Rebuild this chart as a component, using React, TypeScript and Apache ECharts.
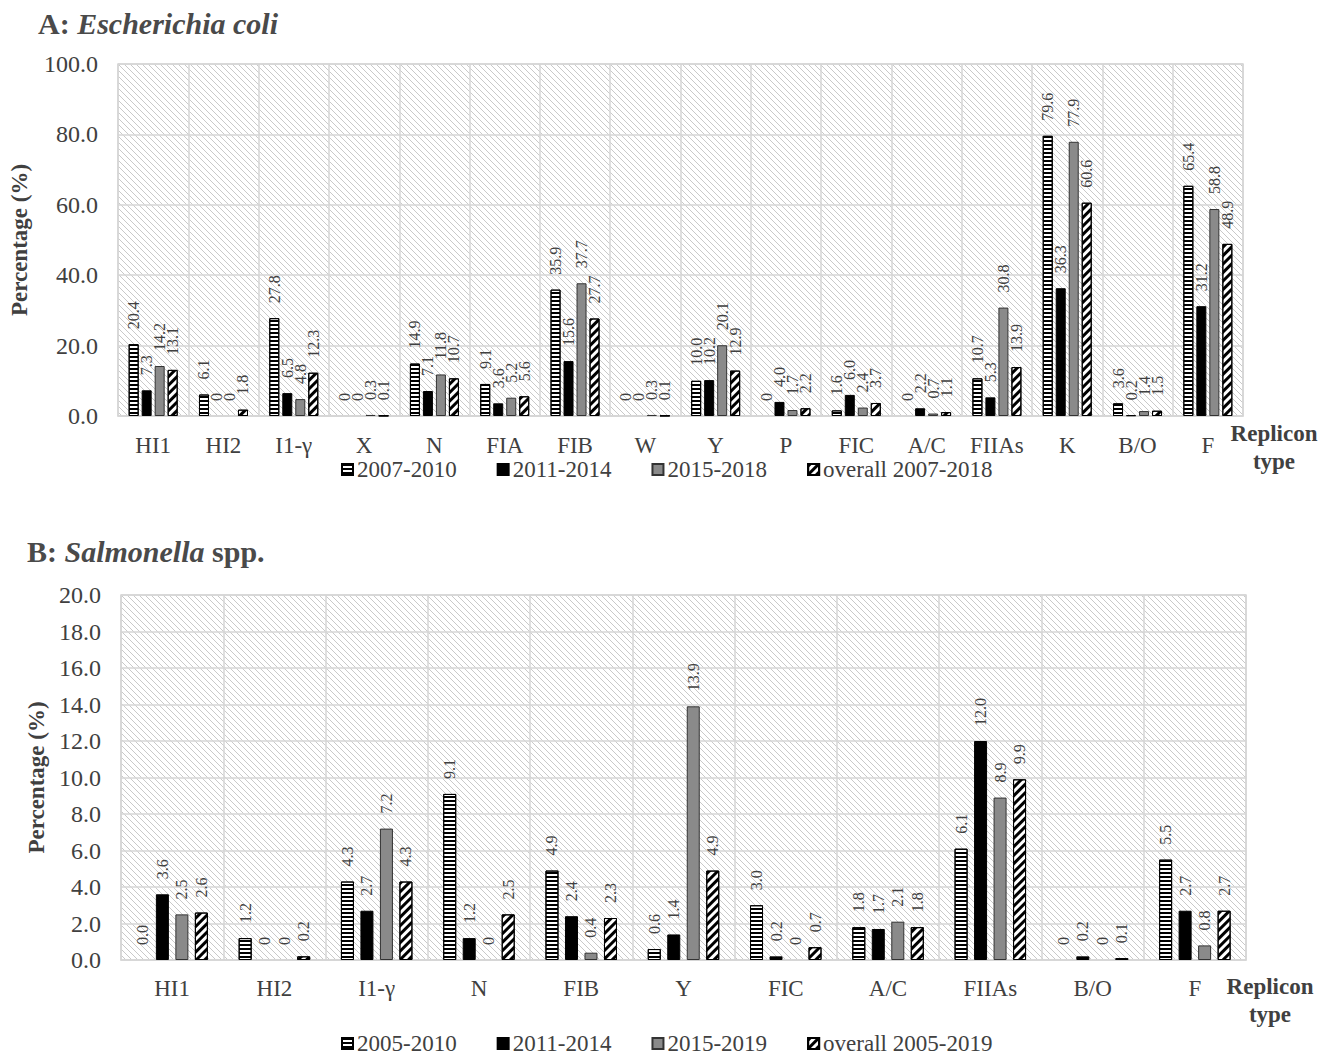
import React, { useEffect, useRef } from "react";
import * as echarts from "echarts";

const FONT = "'Liberation Serif', 'Times New Roman', serif";
const TXT = "#404040";
const GRIDC = "#d6d6d6";

// Panel A: Escherichia coli
const catsA = ["HI1", "HI2", "I1-γ", "X", "N", "FIA", "FIB", "W", "Y", "P", "FIC", "A/C", "FIIAs", "K", "B/O", "F"];
const namesA = ["2007-2010", "2011-2014", "2015-2018", "overall 2007-2018"];
const a2007 = [20.4, 6.1, 27.8, 0, 14.9, 9.1, 35.9, 0, 10.0, 0, 1.6, 0, 10.7, 79.6, 3.6, 65.4];
const a2011 = [7.3, 0, 6.5, 0, 7.1, 3.6, 15.6, 0, 10.2, 4.0, 6.0, 2.2, 5.3, 36.3, 0.2, 31.2];
const a2015 = [14.2, 0, 4.8, 0.3, 11.8, 5.2, 37.7, 0.3, 20.1, 1.7, 2.4, 0.7, 30.8, 77.9, 1.4, 58.8];
const aAll = [13.1, 1.8, 12.3, 0.1, 10.7, 5.6, 27.7, 0.1, 12.9, 2.2, 3.7, 1.1, 13.9, 60.6, 1.5, 48.9];

// Panel B: Salmonella spp.
const catsB = ["HI1", "HI2", "I1-γ", "N", "FIB", "Y", "FIC", "A/C", "FIIAs", "B/O", "F"];
const namesB = ["2005-2010", "2011-2014", "2015-2019", "overall 2005-2019"];
const b2005 = [0.0, 1.2, 4.3, 9.1, 4.9, 0.6, 3.0, 1.8, 6.1, 0, 5.5];
const b2011 = [3.6, 0, 2.7, 1.2, 2.4, 1.4, 0.2, 1.7, 12.0, 0.2, 2.7];
const b2015 = [2.5, 0, 7.2, 0, 0.4, 13.9, 0, 2.1, 8.9, 0, 0.8];
const bAll = [2.6, 0.2, 4.3, 2.5, 2.3, 4.9, 0.7, 1.8, 9.9, 0.1, 2.7];
// zero values labelled "0.0" instead of "0" (series index, data index)
const zeroDecimalB = [[0, 0]];

const fmt = (v: number) => (v === 0 ? "0" : v.toFixed(1));

const hatchSvg =
  "<svg xmlns='http://www.w3.org/2000/svg' width='6' height='6'><path d='M0,0L6,6M-3,3L3,9M3,-3L9,3' stroke='#c9c9c9' stroke-width='1' fill='none'/></svg>";
const hatch: any = {
  image: "data:image/svg+xml;charset=utf-8," + encodeURIComponent(hatchSvg),
  repeat: "repeat",
  imageWidth: 6,
  imageHeight: 6,
};

const styles: any[] = [
  {
    color: "#ffffff",
    borderColor: "#000",
    borderWidth: 1,
    decal: { symbol: "rect", symbolSize: 1, dashArrayX: [1, 0], dashArrayY: [2, 2], color: "#000", rotation: 0 },
  },
  { color: "#000000", borderColor: "#000", borderWidth: 1 },
  { color: "#8a8a8a", borderColor: "#333", borderWidth: 1 },
  {
    color: "#ffffff",
    borderColor: "#000",
    borderWidth: 1,
    decal: { symbol: "rect", symbolSize: 1, dashArrayX: [1, 0], dashArrayY: [2.5, 2.5], color: "#000", rotation: -Math.PI / 4 },
  },
];

const labelCfg = {
  show: true,
  position: "top",
  rotate: 90,
  align: "left",
  verticalAlign: "middle",
  distance: 15,
  fontSize: 16,
  color: TXT,
  fontFamily: FONT,
  formatter: (p: any) => fmt(p.value),
};

export default function App() {
  const ref = useRef<HTMLDivElement>(null);
  useEffect(() => {
    document.body.style.margin = "0";
    const chart = echarts.init(ref.current!, null, { renderer: "svg" });

    const mkSeries = (names: string[], arrs: number[][], idx: number, barWidth: number, barGap: string, overrides: number[][]) =>
      arrs.map((arr, si) => ({
        name: names[si],
        type: "bar",
        xAxisIndex: idx,
        yAxisIndex: idx,
        barWidth,
        barGap,
        itemStyle: styles[si],
        label: labelCfg,
        data: arr.map((v, di) => {
          const item: any = { value: v };
          if (v === 0) item.itemStyle = { borderWidth: 0 };
          if (overrides.some((o) => o[0] === si && o[1] === di)) item.label = { formatter: v.toFixed(1) };
          return item;
        }),
      }));

    const xAxisBase = (cats: string[], idx: number, margin: number) => ({
      type: "category",
      gridIndex: idx,
      data: cats,
      axisLine: { show: true, lineStyle: { color: GRIDC, width: 1.5 } },
      axisTick: { show: false },
      splitLine: { show: true, interval: 0, lineStyle: { color: GRIDC, width: 1.5 } },
      axisLabel: { interval: 0, fontSize: 23, color: TXT, fontFamily: FONT, margin, lineHeight: 22 },
    });

    const yAxisBase = (idx: number, max: number, interval: number, nameGap: number) => ({
      type: "value",
      gridIndex: idx,
      min: 0,
      max,
      interval,
      name: "Percentage (%)",
      nameLocation: "middle",
      nameRotate: 90,
      nameGap,
      nameTextStyle: { fontSize: 23, fontWeight: "bold", color: TXT, fontFamily: FONT },
      axisLine: { show: false },
      axisTick: { show: false },
      splitLine: { show: true, lineStyle: { color: GRIDC, width: 1.5 } },
      axisLabel: { fontSize: 24, color: TXT, fontFamily: FONT, margin: 20, formatter: (v: number) => v.toFixed(1) },
    });

    const legendBase = (names: string[], top: number) => ({
      data: names,
      left: 336,
      top,
      itemWidth: 11,
      itemHeight: 11,
      itemGap: 40,
      icon: "rect",
      textStyle: { fontSize: 23, color: TXT, fontFamily: FONT, padding: [0, 0, 0, -1], lineHeight: 22 },
    });

    const richTitle = {
      a: { fontSize: 30, fontWeight: "bold", color: "#4a4a4a", fontFamily: FONT },
      b: { fontSize: 30, fontWeight: "bold", fontStyle: "italic", color: "#4a4a4a", fontFamily: FONT },
    };

    chart.setOption({
      animation: false,
      title: [
        { text: "{a|A: }{b|Escherichia coli}", left: 33, top: 3, textStyle: { rich: richTitle } },
        { text: "{a|B: }{b|Salmonella}{a| spp.}", left: 22, top: 531, textStyle: { rich: richTitle } },
      ],
      grid: [
        { left: 117, top: 64, width: 1126, height: 352, show: true, backgroundColor: hatch, borderColor: GRIDC, borderWidth: 1.5 },
        { left: 121, top: 595, width: 1125, height: 365, show: true, backgroundColor: hatch, borderColor: GRIDC, borderWidth: 1.5 },
      ],
      xAxis: [xAxisBase(catsA, 0, 18), xAxisBase(catsB, 1, 17)],
      yAxis: [yAxisBase(0, 100, 20, 87), yAxisBase(1, 20, 2, 71)],
      legend: [legendBase(namesA, 453), legendBase(namesB, 1027)],
      graphic: [
        {
          type: "text",
          x: 1274,
          y: 419,
          style: { text: "Replicon\ntype", textAlign: "center", fontSize: 23, fontWeight: "bold", fill: TXT, fontFamily: FONT, lineHeight: 28 },
        },
        {
          type: "text",
          x: 1270,
          y: 972,
          style: { text: "Replicon\ntype", textAlign: "center", fontSize: 23, fontWeight: "bold", fill: TXT, fontFamily: FONT, lineHeight: 28 },
        },
      ],
      series: [
        ...mkSeries(namesA, [a2007, a2011, a2015, aAll], 0, 10, "30%", []),
        ...mkSeries(namesB, [b2005, b2011, b2015, bAll], 1, 13, "50%", zeroDecimalB),
      ],
    });
    return () => chart.dispose();
  }, []);
  return <div ref={ref} style={{ width: 1333, height: 1057 }} />;
}
